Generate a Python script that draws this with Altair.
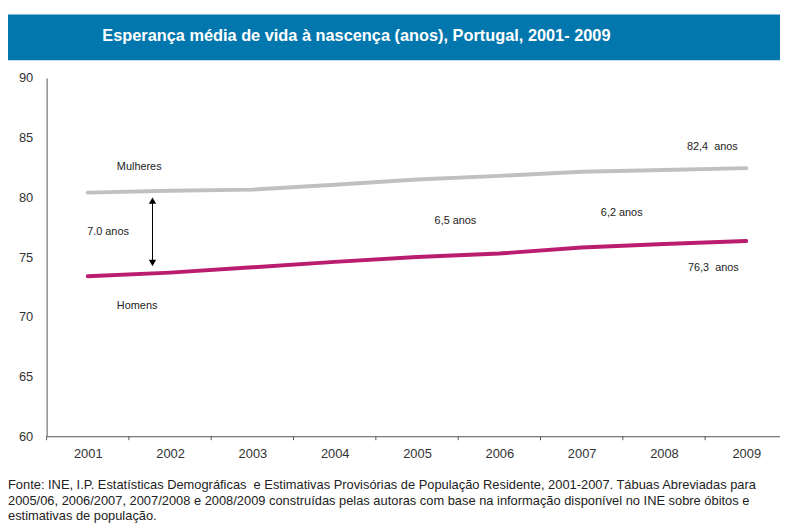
import altair as alt
import pandas as pd

years = [2001, 2002, 2003, 2004, 2005, 2006, 2007, 2008, 2009]
mulheres = [80.4, 80.55, 80.65, 81.05, 81.5, 81.8, 82.15, 82.3, 82.45]
homens = [73.4, 73.7, 74.15, 74.6, 75.0, 75.3, 75.8, 76.1, 76.35]
series_names = ["Mulheres", "Homens"]
series_colors = ["#C0C0C0", "#BA1C6F"]
y_ticks = [60, 65, 70, 75, 80, 85, 90]
x_boundaries = [2000.5, 2001.5, 2002.5, 2003.5, 2004.5, 2005.5, 2006.5, 2007.5, 2008.5]

title_text = "Esperança média de vida à nascença (anos), Portugal, 2001- 2009"
footer_lines = [
    "Fonte: INE, I.P. Estatísticas Demográficas\u00a0 e Estimativas Provisórias de População Residente, 2001-2007. Tábuas Abreviadas para",
    "2005/06, 2006/2007, 2007/2008 e 2008/2009 construídas pelas autoras com base na informação disponível no INE sobre óbitos e",
    "estimativas de população.",
]

FONT = "Liberation Sans, Arial, sans-serif"

rows = []
for name, vals in zip(series_names, [mulheres, homens]):
    for yr, v in zip(years, vals):
        rows.append({"ano": yr, "valor": v, "serie": name})
df = pd.DataFrame(rows)

x_scale = alt.Scale(domain=[2000.5, 2009.41], nice=False, zero=False)

lines = alt.Chart(df).mark_line(strokeWidth=4, strokeCap="round", strokeJoin="round").encode(
    x=alt.X(
        "ano:Q",
        scale=x_scale,
        axis=alt.Axis(
            title=None, values=years, format="d", labelAngle=0, ticks=False, tickSize=0,
            labelPadding=11, labelFontSize=13, labelColor="#333333", labelFont=FONT,
            domainColor="#555555", grid=False, labelFlush=False, labelOverlap=False,
        ),
    ),
    y=alt.Y(
        "valor:Q",
        scale=alt.Scale(domain=[60, 90], nice=False, zero=False),
        axis=alt.Axis(
            title=None, values=y_ticks, ticks=False, tickSize=0, labelPadding=14,
            labelFontSize=13, labelColor="#333333", labelFont=FONT,
            domainColor="#555555", grid=False, labelFlush=False,
        ),
    ),
    color=alt.Color("serie:N", scale=alt.Scale(domain=series_names, range=series_colors), legend=None),
    detail="serie:N",
)

x_ticks = alt.Chart(pd.DataFrame({"b": x_boundaries})).mark_rule(color="#555555", strokeWidth=1).encode(
    x=alt.X("b:Q", scale=x_scale), y=alt.value(362), y2=alt.value(366)
)


def text_layer(txt, x, y, size=11, align="left", color="#222222", weight="normal"):
    return alt.Chart(pd.DataFrame({"t": [txt]})).mark_text(
        align=align, baseline="middle", fontSize=size, font=FONT, color=color, fontWeight=weight
    ).encode(text="t:N", x=alt.value(x), y=alt.value(y))


bar = alt.Chart(pd.DataFrame({"t": ["bar"]})).mark_rect(color="#0277AE").encode(
    x=alt.value(-39), x2=alt.value(745), y=alt.value(-64), y2=alt.value(-18)
)
title = text_layer(title_text, 313, -42, size=16.5, align="center", color="white", weight="bold")

arrow_line = alt.Chart(pd.DataFrame({"t": ["a"]})).mark_rule(color="#000000", strokeWidth=1).encode(
    x=alt.value(107), y=alt.value(124), y2=alt.value(187)
)
arrow_up = alt.Chart(pd.DataFrame({"t": ["a"]})).mark_point(
    shape="triangle-up", filled=True, color="#000000", size=55, opacity=1
).encode(x=alt.value(107), y=alt.value(124))
arrow_down = alt.Chart(pd.DataFrame({"t": ["a"]})).mark_point(
    shape="triangle-down", filled=True, color="#000000", size=55, opacity=1
).encode(x=alt.value(107), y=alt.value(187))

annots = [
    text_layer("Mulheres", 71, 90),
    text_layer("Homens", 71, 230),
    text_layer("7.0 anos", 41, 156),
    text_layer("6,5 anos", 392, 145),
    text_layer("6,2 anos", 560, 136),
    text_layer("82,4\u00a0 anos", 647, 70),
    text_layer("76,3\u00a0 anos", 648, 192),
]

footer = [text_layer(line, -39, 411 + 16 * i, size=13, color="#222222") for i, line in enumerate(footer_lines)]

chart = alt.layer(
    bar, title, lines, x_ticks, arrow_line, arrow_up, arrow_down, *annots, *footer
).properties(
    width=741,
    height=362,
    autosize=alt.AutoSizeParams(type="none"),
    padding={"left": 39, "top": 68, "right": 0, "bottom": 87},
).configure_view(strokeWidth=0)

chart.save("out.html", embed_options={"renderer": "svg", "actions": False})
